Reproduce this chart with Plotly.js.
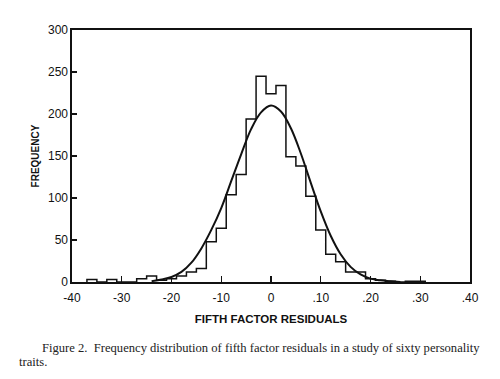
<!DOCTYPE html>
<html>
<head>
<meta charset="utf-8">
<script src="https://cdn.plot.ly/plotly-3.0.1.min.js"></script>
<style>html,body{margin:0;padding:0;background:#fff;}#chart{width:500px;height:379px;}</style>
</head>
<body>
<div id="chart"></div>
<script>
// Histogram bins (centre of each 0.02-wide bin, in hundredths) and frequencies
const binCenters = [-36,-34,-32,-30,-28,-26,-24,-22,-20,-18,-16,-14,-12,-10,-8,-6,-4,-2,0,2,4,6,8,10,12,14,16,18,20,22,24,26,28,30];
const binCounts  = [3,0,3,0,0,4,7,2,4,7,12,16,48,64,104,128,194,245,224,234,149,138,102,62,33,24,12,12,4,2,1,0,1,1];
const binWidth = 2;

// Fitted normal curve
const curveX = [-24,-22,-20,-18,-16,-14,-12,-10,-8,-6,-4,-2,0,2,4,6,8,10,12,14,16,18,20,22,24,26];
const curveY = [1,3,6,12,23,40,62,88,120,152,182,202,210,203,183,153,118,84,55,33,18,9,4,2,1,0];

// Axis ticks
const xTickVals = [-40,-30,-20,-10,0,10,20,30,40];
const xTickText = ["-40","-30","-20","-10","0",".10",".20",".30",".40"];
const yTickVals = [0,50,100,150,200,250,300];

// Build histogram outline (step) from the bins
const stepX = [binCenters[0] - binWidth/2];
const stepY = [0];
binCenters.forEach((c, i) => { stepX.push(c - binWidth/2); stepY.push(binCounts[i]); });
const lastEdge = binCenters[binCenters.length-1] + binWidth/2;
stepX.push(lastEdge); stepY.push(binCounts[binCounts.length-1]);
stepX.push(lastEdge); stepY.push(0);

const traces = [
  {x: stepX, y: stepY, type: 'scatter', mode: 'lines', line: {shape: 'hv', color: '#111', width: 1.5}, hoverinfo: 'skip'},
  {x: curveX, y: curveY, type: 'scatter', mode: 'lines', line: {shape: 'spline', smoothing: 1, color: '#111', width: 2}, hoverinfo: 'skip'}
];

const W = 398, H = 252.5;
function px(x){ return (x - 72) / W; }
function py(y){ return (282 - y) / H; }

const layout = {
  width: 500, height: 379, autosize: false,
  margin: {l: 72, r: 30, t: 29.5, b: 97, pad: 0},
  paper_bgcolor: '#fff', plot_bgcolor: '#fff',
  showlegend: false,
  font: {family: '"Liberation Sans", Arial, sans-serif', color: '#111', size: 12},
  xaxis: {
    range: [-40, 40], tickvals: xTickVals, ticktext: xTickText,
    ticks: 'inside', ticklen: 6, tickwidth: 1.2, tickcolor: '#111',
    showline: true, linecolor: '#111', linewidth: 1.6, mirror: true,
    showgrid: false, zeroline: false,
    tickfont: {size: 12}, ticklabelstandoff: 4,
    title: {text: '<b>FIFTH FACTOR RESIDUALS</b>', font: {size: 11.5}, standoff: 11}
  },
  yaxis: {
    range: [0, 300], tickvals: yTickVals,
    ticks: 'inside', ticklen: 5, tickwidth: 1.2, tickcolor: '#111',
    showline: true, linecolor: '#111', linewidth: 1.6, mirror: true,
    showgrid: false, zeroline: false,
    tickfont: {size: 12},
    title: {text: '<b>FREQUENCY</b>', font: {size: 10}, standoff: 6}
  },
  annotations: [
    {xref: 'paper', yref: 'paper', x: px(40), y: py(348.3), xanchor: 'left', yanchor: 'middle', showarrow: false,
     text: 'Figure 2.  Frequency distribution of fifth factor residuals in a study of sixty personality',
     font: {family: '"Liberation Serif", "Times New Roman", serif', size: 12.6, color: '#222'}},
    {xref: 'paper', yref: 'paper', x: px(16.7), y: py(361.7), xanchor: 'left', yanchor: 'middle', showarrow: false,
     text: 'traits.',
     font: {family: '"Liberation Serif", "Times New Roman", serif', size: 12.6, color: '#222'}}
  ]
};

Plotly.newPlot('chart', traces, layout, {staticPlot: true, displayModeBar: false});
</script>
</body>
</html>
